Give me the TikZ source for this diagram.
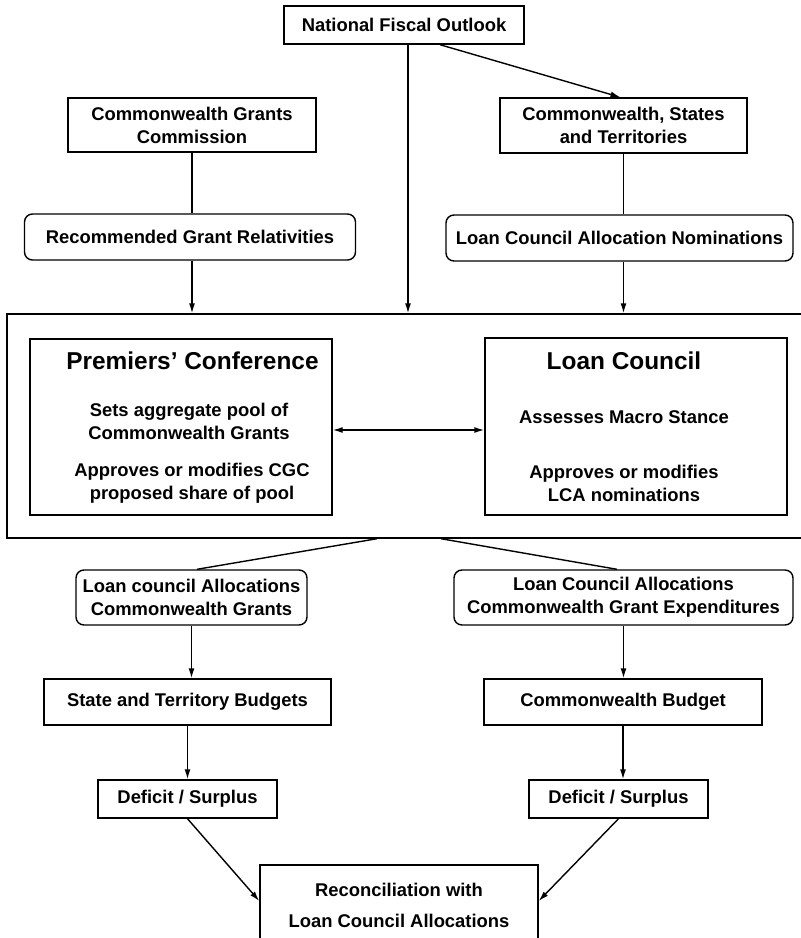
\documentclass[tikz,border=0pt]{standalone}
\usepackage{fontspec}
\setmainfont{Liberation Sans}
\usetikzlibrary{arrows.meta}

\begin{document}
\begin{tikzpicture}[x=0.5pt, y=-0.5pt,
  every node/.style={font=\bfseries\fontsize{9.2}{11.5}\selectfont, align=center, inner sep=0pt},
  blk/.style={draw, line width=0.7pt},
  rblk/.style={draw, line width=0.7pt, rounded corners=4pt},
  heading/.style={font=\bfseries\fontsize{12.2}{14}\selectfont},
  link/.style={line width=0.7pt},
  arr/.style={line width=0.7pt, -{Latex[length=5pt,width=3pt]}},
  dblarr/.style={line width=0.7pt, {Latex[length=5pt,width=3pt]}-{Latex[length=5pt,width=3pt]}}]
\useasboundingbox (0,0) rectangle (801,938);

\node (nfo) [blk, minimum width=120pt, minimum height=19pt] at (404,25) {National Fiscal Outlook};
\node (cgc) [blk, minimum width=124pt, minimum height=27pt] at (192,125) {Commonwealth Grants\\Commission};
\node (cst) [blk, minimum width=123.5pt, minimum height=27.5pt] at (623.5,125.5) {Commonwealth, States\\and Territories};
\node (rgr) [rblk, minimum width=165.5pt, minimum height=23pt] at (190,237) {Recommended Grant Relativities};
\node (lcan) [rblk, minimum width=173.5pt, minimum height=23pt] at (619.5,238) {Loan Council Allocation Nominations};

\node (council) [blk, minimum width=402pt, minimum height=112pt] at (409,426) {};
\node (pc) [blk, minimum width=151pt, minimum height=88pt] at (181,427) {};
\node (lc) [blk, minimum width=151pt, minimum height=88.5pt] at (636,426.5) {};
\node (pctitle) [heading] at (192.5,361) {Premiers' Conference};
\node (pcpool) at (189,421) {Sets aggregate pool of\\Commonwealth Grants};
\node (pcshare) at (192,483.5) {Approves or modifies CGC\\proposed share of pool};
\node (lctitle) [heading] at (624,361) {Loan Council};
\node (lcmacro) at (624,417) {Assesses Macro Stance};
\node (lcnom) at (624,483) {Approves or modifies\\LCA nominations};

\node (lcacg) [rblk, minimum width=115.5pt, minimum height=27.5pt] at (191.5,597.5) {Loan council Allocations\\Commonwealth Grants};
\node (lcace) [rblk, minimum width=169.5pt, minimum height=27.5pt] at (623.5,597.5) {Loan Council Allocations\\Commonwealth Grant Expenditures};
\node (stb) [blk, minimum width=143.5pt, minimum height=23pt] at (187.5,702) {State and Territory Budgets};
\node (cb) [blk, minimum width=139pt, minimum height=23pt] at (623,702) {Commonwealth Budget};
\node (dsl) [blk, minimum width=89.5pt, minimum height=19pt] at (187.5,799) {Deficit / Surplus};
\node (dsr) [blk, minimum width=89.5pt, minimum height=19pt] at (618.5,799) {Deficit / Surplus};
\node (rec) [blk, minimum width=139pt, minimum height=40pt] at (399,905) {Reconciliation with\\[4pt]Loan Council Allocations};

\coordinate (nfoout) at ([xshift=2pt]nfo.south);
\draw [arr] (nfoout) -- (nfoout |- council.north);
\draw [arr] ([xshift=18pt]nfo.south) -- ([xshift=-1.5pt]cst.north);
\draw [link] (cgc.south) -- (cgc.south |- rgr.north);
\draw [arr] (cgc.south |- rgr.south) -- (cgc.south |- council.north);
\draw [link] (cst.south) -- (cst.south |- lcan.north);
\draw [arr] (cst.south |- lcan.south) -- (cst.south |- council.north);
\draw [dblarr] ([yshift=-1.5pt]pc.east) -- ([yshift=-1.5pt]pc.east -| lc.west);

\draw [link] ([xshift=-16pt]council.south) -- ([xshift=2.75pt]lcacg.north);
\draw [link] ([xshift=16pt]council.south) -- ([xshift=-3.25pt]lcace.north);
\draw [arr] (lcacg.south) -- (lcacg.south |- stb.north);
\draw [arr] (stb.south) -- (stb.south |- dsl.north);
\draw [arr] (lcace.south) -- (lcace.south |- cb.north);
\draw [arr] (cb.south) -- (cb.south |- dsr.north);
\draw [arr] (dsl.south) -- ([yshift=2pt]rec.west);
\draw [arr] (dsr.south) -- ([yshift=2pt]rec.east);
\end{tikzpicture}
\end{document}
